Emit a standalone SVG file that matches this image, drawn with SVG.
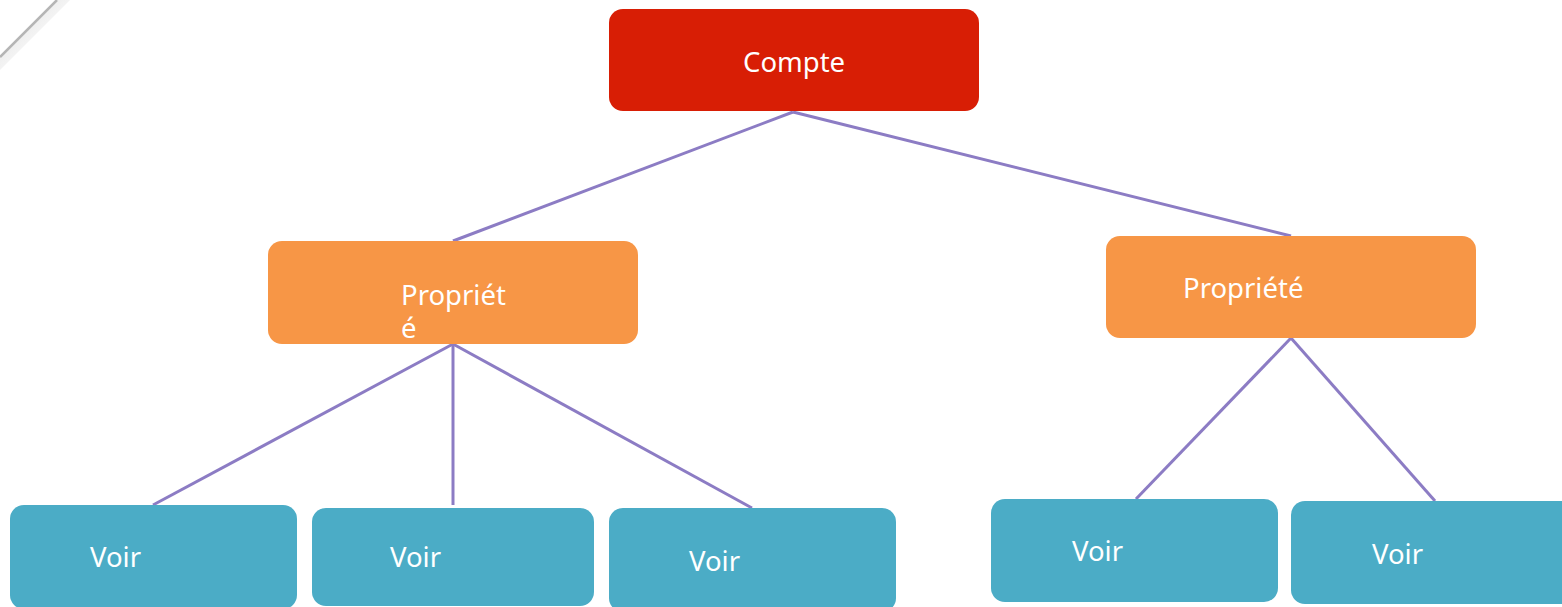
<svg xmlns="http://www.w3.org/2000/svg" width="1562" height="607" viewBox="0 0 1562 607">
<defs>
<linearGradient id="curl" x1="0" y1="0" x2="1" y2="1">
<stop offset="0" stop-color="#9a9a9a"/>
<stop offset="1" stop-color="#ffffff" stop-opacity="0"/>
</linearGradient>
</defs>
<style>
.red{fill:#D81E05}
.org{fill:#F79646}
.blu{fill:#4BACC6}
.t{fill:#ffffff;font-family:"Noto Sans","Liberation Sans",Arial,sans-serif;font-size:27.5px}
.c{stroke:#8C7CC4;stroke-width:3;fill:none}
</style>
<g id="corner">
<polygon points="0,57 57,0 70,0 0,70" fill="url(#curl)" opacity="0.45"/>
<line x1="0" y1="57" x2="57" y2="0" stroke="#b5b5b5" stroke-width="2.5"/>
</g>
<g id="connectors">
<line class="c" x1="793" y1="112" x2="453" y2="241"/>
<line class="c" x1="793" y1="112" x2="1291" y2="236"/>
<line class="c" x1="453" y1="344" x2="153" y2="505"/>
<line class="c" x1="453" y1="344" x2="453" y2="505"/>
<line class="c" x1="453" y1="344" x2="752" y2="508"/>
<line class="c" x1="1291" y1="338" x2="1136" y2="499"/>
<line class="c" x1="1291" y1="338" x2="1435" y2="501"/>
</g>
<g id="compte">
<rect class="red" x="609" y="9" width="370" height="102" rx="14"/>
<text class="t" x="743" y="72">Compte</text>
</g>
<g id="propriete1">
<rect class="org" x="268" y="241" width="370" height="103" rx="14"/>
<text class="t" x="401" y="305">Propriét</text>
<text class="t" x="401" y="338">é</text>
</g>
<g id="propriete2">
<rect class="org" x="1106" y="236" width="370" height="102" rx="14"/>
<text class="t" x="1183" y="298">Propriété</text>
</g>
<g id="voir1">
<rect class="blu" x="10" y="505" width="287" height="104" rx="14"/>
<text class="t" x="90" y="567">Voir</text>
</g>
<g id="voir2">
<rect class="blu" x="312" y="508" width="282" height="98" rx="14"/>
<text class="t" x="390" y="567">Voir</text>
</g>
<g id="voir3">
<rect class="blu" x="609" y="508" width="287" height="104" rx="14"/>
<text class="t" x="689" y="571">Voir</text>
</g>
<g id="voir4">
<rect class="blu" x="991" y="499" width="287" height="103" rx="14"/>
<text class="t" x="1072" y="561">Voir</text>
</g>
<g id="voir5">
<rect class="blu" x="1291" y="501" width="290" height="103" rx="14"/>
<text class="t" x="1372" y="564">Voir</text>
</g>
</svg>
